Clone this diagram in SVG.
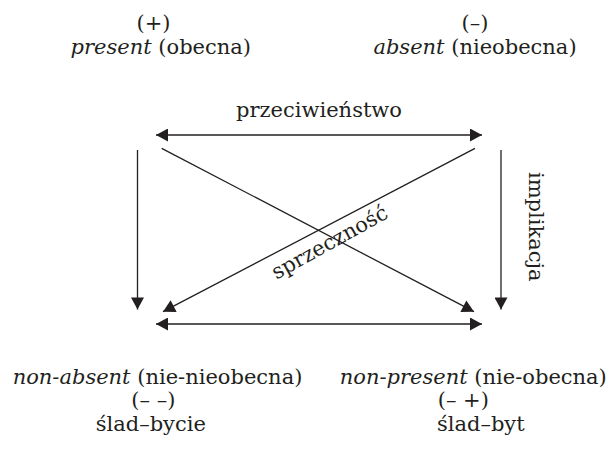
<svg xmlns="http://www.w3.org/2000/svg" width="612" height="453" viewBox="0 0 612 453">
<style>
text{font-family:"DejaVu Serif","Liberation Serif",serif;font-size:21px;fill:#231f20;text-anchor:middle}
.i{font-style:italic}
.c{stroke:#231f20;stroke-width:1.3;fill:none}
</style>
<defs>
<marker id="ah" markerUnits="userSpaceOnUse" markerWidth="13" markerHeight="13" refX="12" refY="6.5" orient="auto-start-reverse" viewBox="0 0 12 13">
<path d="M0,0 L12,6.5 L0,13 z" fill="#231f20"/>
</marker>
</defs>
<rect width="612" height="453" fill="#fff"/>
<g id="present">
<text x="153.5" y="30">(+)</text>
<text x="160.8" y="54"><tspan class="i">present</tspan> (obecna)</text>
</g>
<g id="absent">
<text x="475" y="30">(–)</text>
<text x="475" y="54"><tspan class="i">absent</tspan> (nieobecna)</text>
</g>
<g id="non-absent">
<text x="157.5" y="384"><tspan class="i">non-absent</tspan> (nie-nieobecna)</text>
<text x="153.3" y="407">(– –)</text>
<text x="150.8" y="431">ślad–bycie</text>
</g>
<g id="non-present">
<text x="473.3" y="384"><tspan class="i">non-present</tspan> (nie-obecna)</text>
<text x="463.3" y="407">(– +)</text>
<text x="480.8" y="431">ślad–byt</text>
</g>
<g id="connectors">
<line class="c" x1="156" y1="135" x2="482" y2="135" marker-start="url(#ah)" marker-end="url(#ah)"/>
<line class="c" x1="156" y1="324" x2="482" y2="324" marker-start="url(#ah)" marker-end="url(#ah)"/>
<line class="c" x1="137.5" y1="150" x2="137.5" y2="309.5" marker-end="url(#ah)"/>
<line class="c" x1="501" y1="150" x2="501" y2="309.5" marker-end="url(#ah)"/>
<line class="c" x1="161.7" y1="148.3" x2="474" y2="311.7" marker-end="url(#ah)"/>
<line class="c" x1="475" y1="148.3" x2="163" y2="311.7" marker-end="url(#ah)"/>
</g>
<g id="labels">
<text x="319" y="117">przeciwieństwo</text>
<text transform="translate(333,248.5) rotate(-29)">sprzeczność</text>
<text transform="translate(529,226.7) rotate(90)">implikacja</text>
</g>
</svg>
